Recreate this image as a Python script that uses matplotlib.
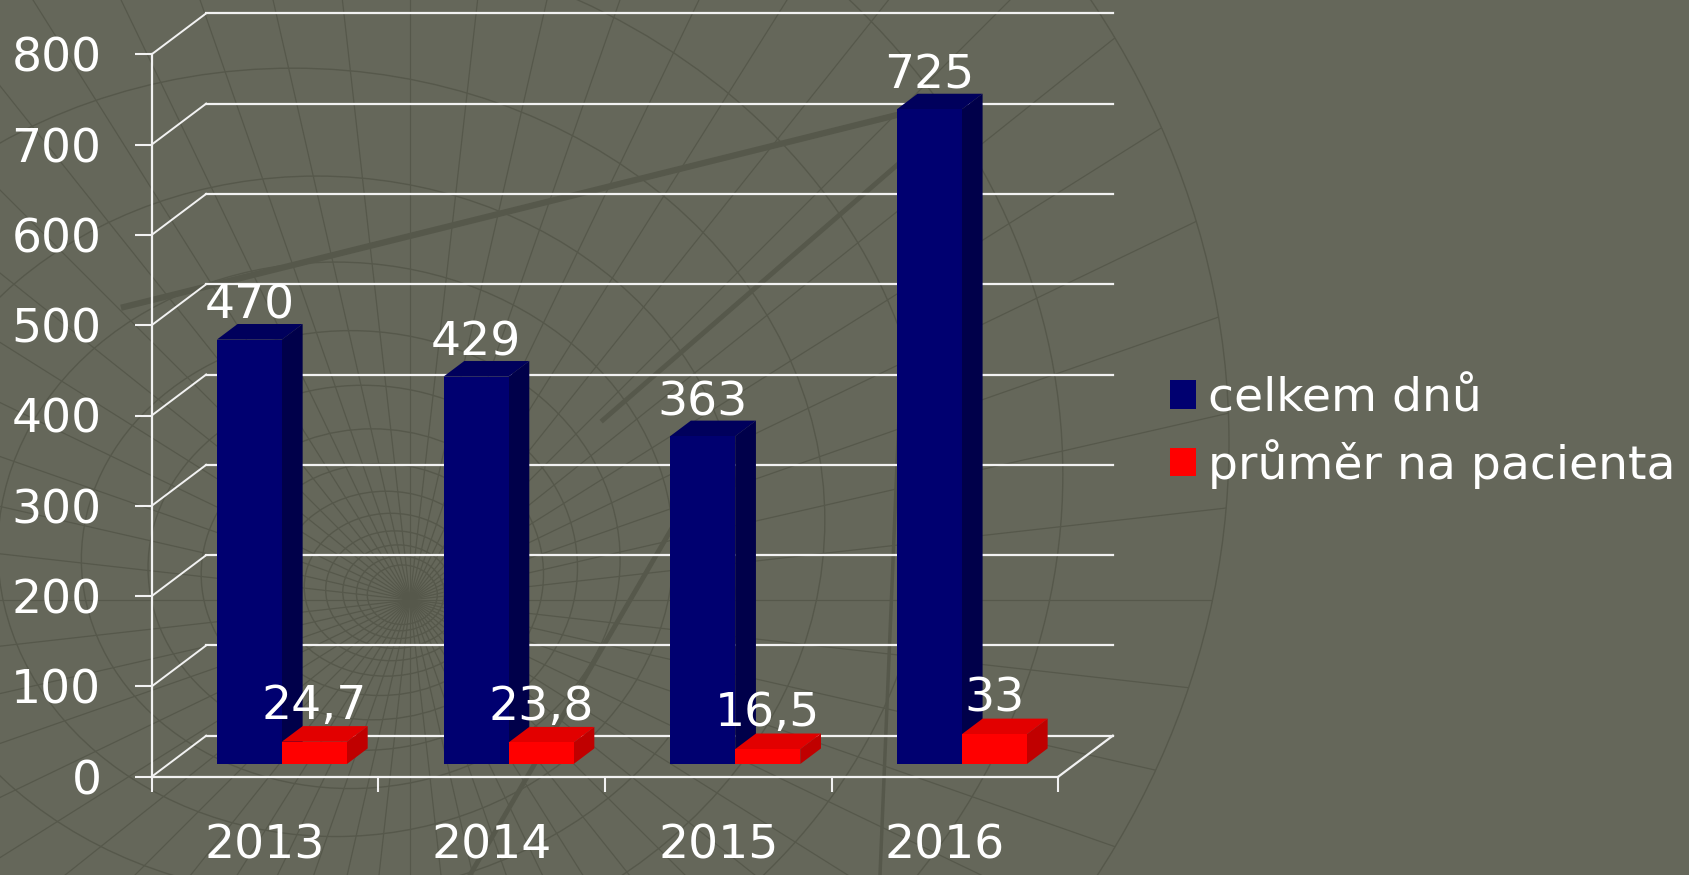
import numpy as np
import matplotlib.pyplot as plt
from matplotlib.patches import Polygon, Patch, Ellipse

years = ['2013', '2014', '2015', '2016']
celkem_dnu = [470, 429, 363, 725]
prumer_na_pacienta = [24.7, 23.8, 16.5, 33]
series_names = ['celkem dnů', 'průměr na pacienta']
y_ticks = list(range(0, 801, 100))

BG = '#65675a'
ORNAMENT = '#56584b'
LINE = '#f2f2f2'
BLUE = ('#000070', '#00004a', '#00005c')   # front, side, top
RED = ('#ff0000', '#c00000', '#e20000')

DX, DY = 0.2405, 45.4   # depth of the 3-d box, in category / value units
Z0, Z1 = 0.31, 0.69     # depth range the columns occupy
W = 0.287               # column width

plt.rcParams['font.family'] = 'DejaVu Sans'
fig = plt.figure(figsize=(16.89, 8.75), dpi=100)
fig.patch.set_facecolor(BG)

# slide background ornament (pixel coords)
bg = fig.add_axes([0, 0, 1, 1], zorder=-1)
bg.set_xlim(0, 1689); bg.set_ylim(875, 0); bg.axis('off')
bg.set_facecolor(BG)
cx, cy = 410, 600
rings = []
for r in np.geomspace(35, 1050, 16):
    e = Ellipse((cx - 0.22 * r, cy - 0.15 * r), 2 * r, 1.7 * r,
                fill=False, ec=ORNAMENT, lw=1.0)
    bg.add_patch(e)
    rings.append(e)
for a in np.linspace(0, 2 * np.pi, 56, endpoint=False):
    ln, = bg.plot([cx, cx + 1400 * np.cos(a)], [cy, cy + 1400 * np.sin(a)],
                  color=ORNAMENT, lw=0.9)
    ln.set_clip_path(rings[-1])
bg.plot([124, 905], [307, 113], color=ORNAMENT, lw=4.5)
bg.plot([603, 926], [420, 140], color=ORNAMENT, lw=3.5)
bg.plot([470, 700], [875, 480], color=ORNAMENT, lw=3.5)
bg.plot([880, 910], [875, 150], color=ORNAMENT, lw=2.5)

ax = fig.add_axes([151.7 / 1689, 98.3 / 875, 906.6 / 1689, 722.4 / 875])
ax.set_xlim(0, len(years)); ax.set_ylim(0, 800)
ax.patch.set_alpha(0)
for s in ('top', 'right'):
    ax.spines[s].set_visible(False)
for s in ('left', 'bottom'):
    ax.spines[s].set_color(LINE); ax.spines[s].set_linewidth(1.6)

# back wall + left wall gridlines, floor edge
n = len(years)
for v in y_ticks:
    ax.plot([DX, n + DX], [v + DY, v + DY], color=LINE, lw=1.6, clip_on=False, zorder=1)
    ax.plot([0, DX], [v, v + DY], color=LINE, lw=1.4, clip_on=False, zorder=1)
ax.plot([n, n + DX], [0, DY], color=LINE, lw=1.6, clip_on=False, zorder=1)

x = np.arange(n)


def columns(left, vals, cols, z, fmt, lift):
    front, side, top = cols
    ax.bar(left + Z0 * DX, vals, width=W, bottom=Z0 * DY, align='edge',
           color=front, lw=0, zorder=z + 0.2)
    for l, v in zip(left, vals):
        r = l + W
        ax.add_patch(Polygon([(r + Z0 * DX, Z0 * DY), (r + Z1 * DX, Z1 * DY),
                              (r + Z1 * DX, Z1 * DY + v), (r + Z0 * DX, Z0 * DY + v)],
                             closed=True, fc=side, lw=0, zorder=z, clip_on=False))
        ax.add_patch(Polygon([(l + Z0 * DX, Z0 * DY + v), (r + Z0 * DX, Z0 * DY + v),
                              (r + Z1 * DX, Z1 * DY + v), (l + Z1 * DX, Z1 * DY + v)],
                             closed=True, fc=top, lw=0, zorder=z, clip_on=False))
        ax.text(l + W / 2 + Z0 * DX, v + Z1 * DY + lift, fmt(v), ha='center',
                va='baseline', fontsize=34, color='white', zorder=10, clip_on=False)


columns(x + 0.5 - W, celkem_dnu, BLUE, 3, lambda v: f'{v:g}', 6)
columns(x + 0.5, prumer_na_pacienta, RED, 4, lambda v: f'{v:g}'.replace('.', ','), 8)

ax.set_yticks(y_ticks)
ax.tick_params(axis='y', direction='out', length=12.2, width=1.5, color=LINE,
               labelcolor='white', labelsize=34, pad=24)
ax.set_xticks(np.arange(n + 1))
ax.set_xticklabels([])
ax.set_xticks(x + 0.5, minor=True)
ax.set_xticklabels(years, minor=True)
ax.tick_params(axis='x', which='major', direction='out', length=10.8, width=1.5, color=LINE)
ax.tick_params(axis='x', which='minor', length=0, pad=34, labelsize=34, labelcolor='white')

fig.legend(handles=[Patch(facecolor=BLUE[0]), Patch(facecolor=RED[0])],
           labels=series_names, loc='upper left',
           bbox_to_anchor=(1170 / 1689, 1 - 376 / 875), frameon=False,
           fontsize=34, labelcolor='white', handlelength=0.55, handleheight=0.55,
           handletextpad=0.25, labelspacing=0.38, borderpad=0, borderaxespad=0)

fig.savefig('out.png', dpi=100, facecolor=BG)
